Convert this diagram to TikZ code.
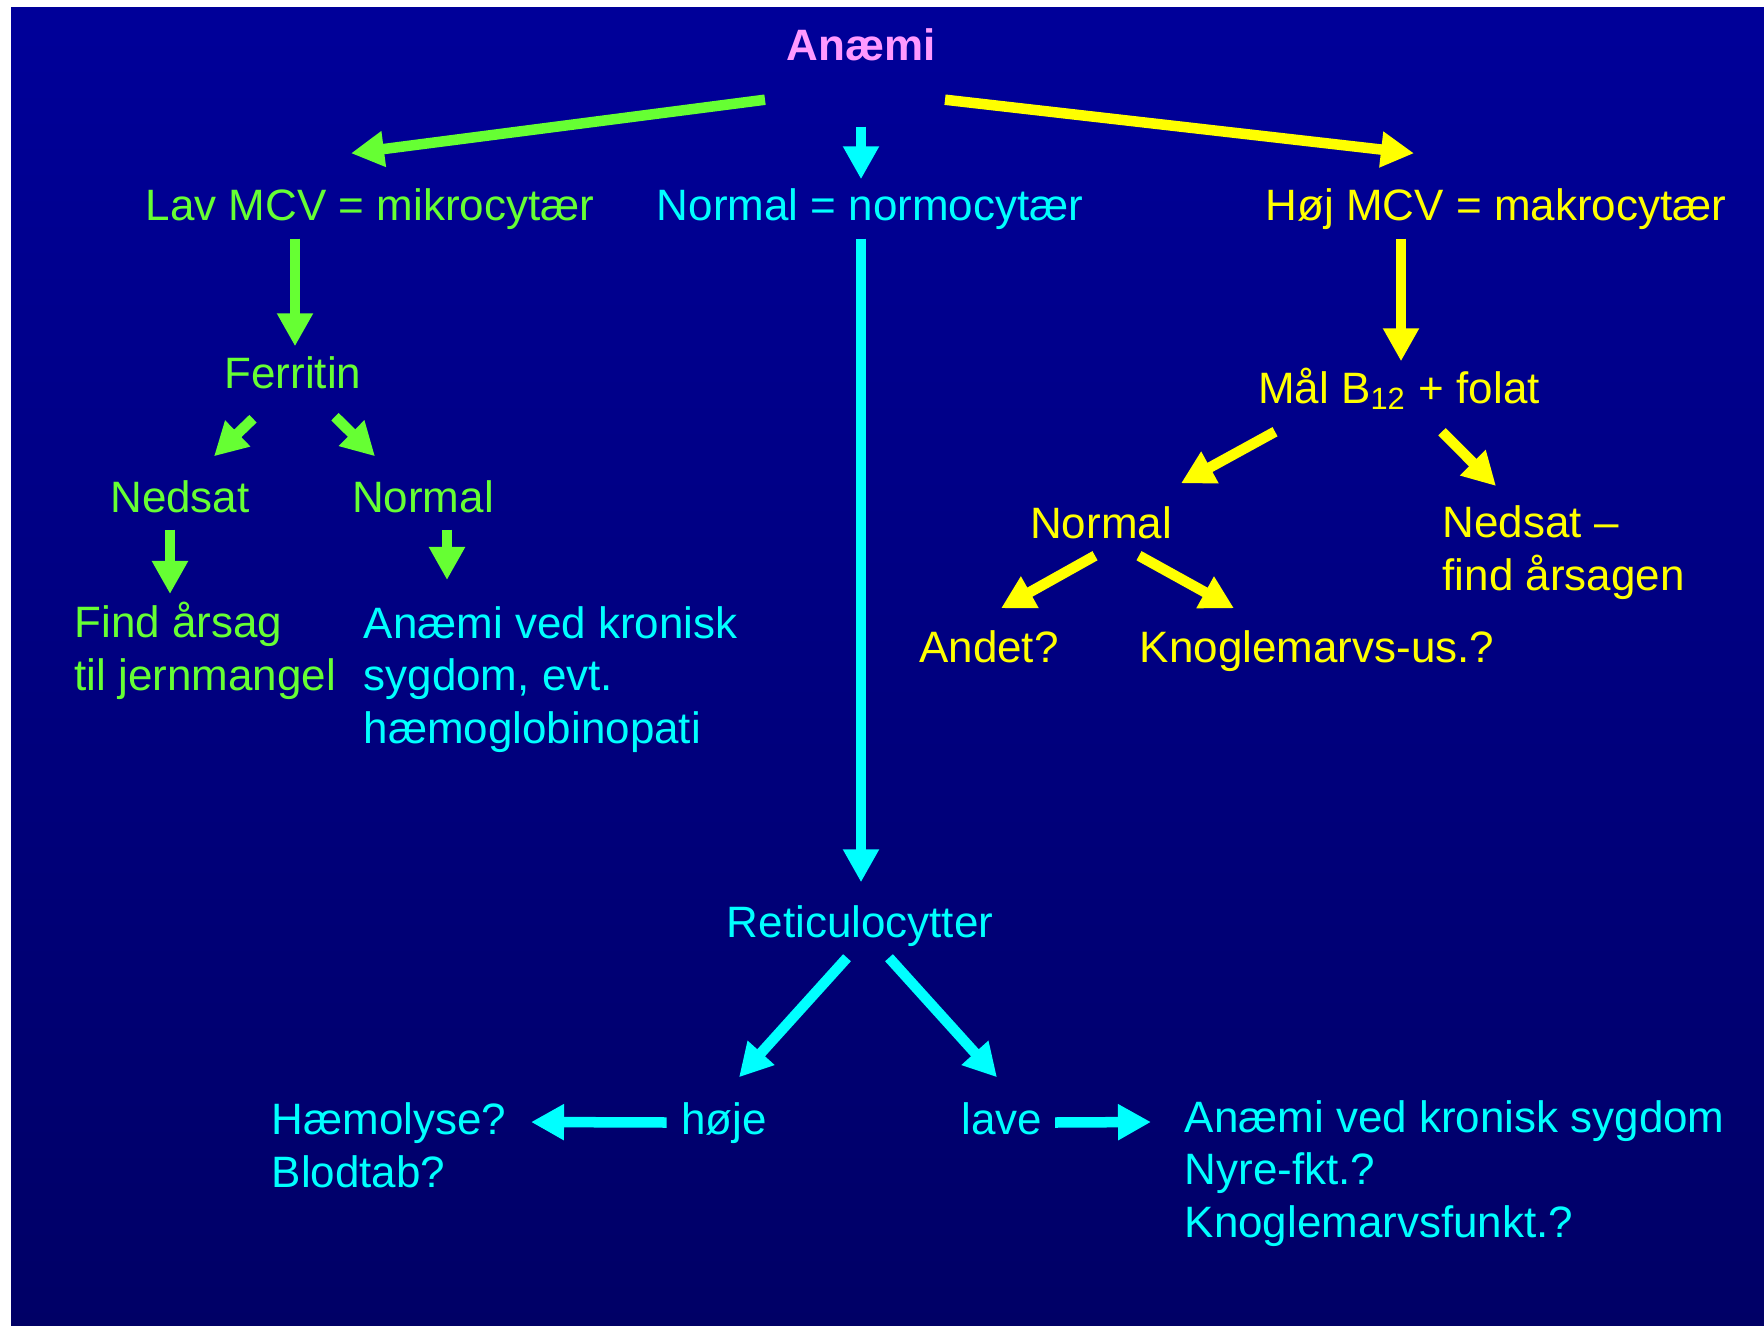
\documentclass[tikz,border=0pt]{standalone}
\usepackage{fontspec}
\setmainfont{Liberation Sans}
\usepackage{tikz}
\usetikzlibrary{arrows.meta, calc}
\definecolor{bgtop}{RGB}{0, 0, 153}
\definecolor{bgbottom}{RGB}{0, 0, 102}
\definecolor{anagreen}{RGB}{102, 255, 51}
\definecolor{anacyan}{RGB}{0, 255, 255}
\definecolor{anayellow}{RGB}{255, 255, 0}
\definecolor{anapink}{RGB}{255, 153, 255}
\tikzstyle{term} = [inner sep=0pt, anchor=base, text height=0.32cm, text depth=0.09cm, font=\fontsize{12.5}{14.9}\selectfont]
\tikzstyle{notes} = [inner sep=0pt, anchor=base west, align=left, font=\fontsize{12.5}{14.9}\selectfont]
\tikzstyle{arrow} = [-{Triangle[length=3.3mm, width=3.4mm]}, line width=1.05mm]
\tikzstyle{garrow} = [arrow, draw=anagreen]
\tikzstyle{carrow} = [arrow, draw=anacyan]
\tikzstyle{yarrow} = [arrow, draw=anayellow]

\begin{document}
\begin{tikzpicture}[x=0.01cm, y=-0.01cm]
    % Background
    \useasboundingbox (0,0) rectangle (1764,1327);
    \fill[white] (0,0) rectangle (1764,1327);
    \shade[top color=bgtop, bottom color=bgbottom] (11,7) rectangle (1764,1325);

    % Top
    \node[term, font=\fontsize{12.5}{14.9}\selectfont\bfseries, text=anapink] (anaemi) at (861,60) {Anæmi};

    % Three branches
    \node[term, text=anagreen] (lav) at (370,220) {Lav MCV = mikrocytær};
    \node[term, text=anacyan] (normo) at (870,220) {Normal = normocytær};
    \node[term, text=anayellow] (hoej) at (1496,220) {Høj MCV = makrocytær};

    % Low MCV (multi-line notes sit on their last baseline)
    \node[term, text=anagreen] (ferritin) at (293,388) {Ferritin};
    \node[term, text=anagreen] (nedsatG) at (180,512) {Nedsat};
    \node[term, text=anagreen] (normalG) at (423,512) {Normal};
    \node[notes, text=anagreen] (jern) at (74,690) {Find årsag\\til jernmangel};
    \node[notes, text=anacyan] (kronisk) at (363,743) {Anæmi ved kronisk\\sygdom, evt.\\hæmoglobinopati};

    % High MCV
    \node[term, text=anayellow] (maal) at (1399,403) {Mål B\textsubscript{12} + folat};
    \node[term, text=anayellow] (normalY) at (1101,538) {Normal};
    \node[notes, text=anayellow] (nedsatY) at (1442,590) {Nedsat –\\find årsagen};
    \node[term, text=anayellow] (andet) at (989,662) {Andet?};
    \node[term, text=anayellow] (knogle) at (1317,662) {Knoglemarvs-us.?};

    % Normal MCV
    \node[term, text=anacyan] (retic) at (860,937) {Reticulocytter};
    \node[term, text=anacyan] (hoeje) at (724,1134) {høje};
    \node[term, text=anacyan] (lave) at (1002,1134) {lave};
    \node[notes, text=anacyan] (haemolyse) at (271,1187) {Hæmolyse?\\Blodtab?};
    \node[notes, text=anacyan] (kronisk2) at (1184,1237) {Anæmi ved kronisk sygdom\\Nyre-fkt.?\\Knoglemarvsfunkt.?};

    % Arrows from the top
    \draw[garrow] ([shift={(-96,30)}]anaemi.south) -- ([shift={(-19,-34)}]lav.north);
    \draw[yarrow] ([shift={(84,30)}]anaemi.south) -- ([shift={(-82,-34)}]hoej.north);
    \draw[carrow] ([shift={(0,57)}]anaemi.south) -- ([shift={(-9,-8)}]normo.north);

    % Green arrows
    \draw[garrow] ([shift={(-75,9)}]lav.south) -- ([shift={(2,-9)}]ferritin.north);
    \draw[garrow] ([shift={(-40,21)}]ferritin.south) -- ([shift={(34,-23)}]nedsatG.north);
    \draw[garrow] ([shift={(42,19)}]ferritin.south) -- ([shift={(-48,-23)}]normalG.north);
    \draw[garrow] ([shift={(-10,8)}]nedsatG.south) -- ([shift={(96,-96)}]jern.base west);
    \draw[garrow] ([shift={(24,8)}]normalG.south) -- ([shift={(84,-163)}]kronisk.base west);

    % Yellow arrows
    \draw[yarrow] ([shift={(-95,9)}]hoej.south) -- ([shift={(2,-9)}]maal.north);
    \draw[yarrow] ([shift={(-124,19)}]maal.south) -- ([shift={(80,-22)}]normalY.north);
    \draw[yarrow] ([shift={(43,19)}]maal.south) -- ([shift={(54,-104)}]nedsatY.base west);
    \draw[yarrow] ([shift={(-6,8)}]normalY.south) -- ([shift={(12,-21)}]andet.north);
    \draw[yarrow] ([shift={(38,8)}]normalY.south) -- ([shift={(-83,-21)}]knogle.north);

    % Cyan arrows
    \draw[carrow] ([shift={(-9,9)}]normo.south) -- ([shift={(1,-22)}]retic.north);
    \draw[carrow] ([shift={(-13,11)}]retic.south) -- ([shift={(15,-24)}]hoeje.north);
    \draw[carrow] ([shift={(29,11)}]retic.south) -- ([shift={(-5,-24)}]lave.north);
    \draw[carrow] ([shift={(-14,0)}]hoeje.west) -- ([shift={(260,-65)}]haemolyse.base west);
    \draw[carrow] ([shift={(12,0)}]lave.east) -- ([shift={(-33,-115)}]kronisk2.base west);
\end{tikzpicture}
\end{document}
